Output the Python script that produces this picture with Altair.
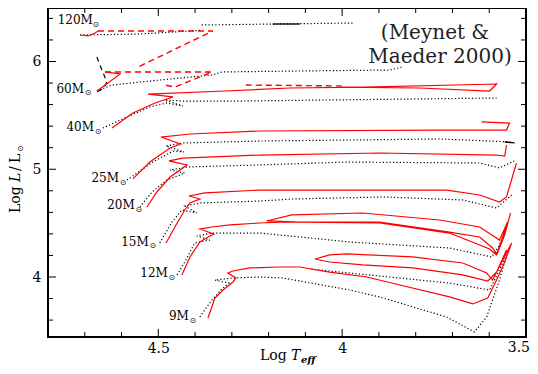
import altair as alt
import pandas as pd

# ---- evolutionary tracks (log Teff, log L/Lsun) ----
# rotating models (red solid)
R9 = [(4.365,3.620),(4.346,3.805),(4.324,3.879),(4.297,3.954),(4.289,3.991),(4.311,4.037),(4.297,4.056),
      (4.251,4.084),(4.170,4.093),(4.115,4.093),(4.034,4.046),(3.933,4.000),(3.843,3.926),(3.708,3.815),
      (3.645,3.750),(3.604,3.805),(3.580,3.972),(3.558,4.139),(3.539,4.316),(3.591,3.972),(3.607,4.037),
      (3.672,4.130),(3.808,4.186),(3.987,4.214),(4.034,4.205),(4.074,4.167),(4.034,4.139),(3.944,4.112),
      (3.808,4.084),(3.672,4.019),(3.604,3.963),(3.580,4.046),(3.553,4.251)]
R12 = [(4.436,4.019),(4.414,4.186),(4.387,4.325),(4.360,4.381),(4.349,4.399),(4.387,4.445),(4.354,4.464),
       (4.305,4.483),(4.224,4.501),(4.170,4.510),(3.898,4.510),(3.708,4.417),(3.626,4.371),(3.591,4.269),
       (3.580,4.214),(3.564,4.362),(3.550,4.510),(3.572,4.343),(3.626,4.464),(3.735,4.529),(3.944,4.594),
       (4.137,4.576),(4.205,4.520),(4.115,4.510),(3.898,4.501),(3.708,4.408),(3.599,4.260),(3.580,4.204),
       (3.558,4.390),(3.542,4.594)]
R15 = [(4.479,4.316),(4.455,4.464),(4.428,4.622),(4.414,4.687),(4.387,4.724),(4.417,4.752),(4.373,4.780),
       (4.224,4.807),(3.716,4.807),(3.626,4.761),(3.572,4.696),(3.553,4.743),(3.526,5.058)]
R20 = [(4.531,4.650),(4.504,4.789),(4.468,4.928),(4.422,5.040),(4.471,5.077),(4.433,5.104),(4.224,5.132),
       (3.898,5.151),(3.580,5.132),(3.558,5.123),(3.553,5.225)]
R25 = [(4.569,4.910),(4.523,5.067),(4.468,5.197),(4.439,5.234),(4.493,5.299),(4.414,5.327),(4.224,5.355),
       (3.735,5.364),(3.553,5.364),(3.545,5.429),(3.621,5.439)]
R40 = [(4.626,5.383),(4.569,5.522),(4.509,5.615),(4.460,5.671),(4.528,5.698),(4.319,5.726),(4.142,5.754),
       (3.939,5.763),(3.580,5.791),(3.599,5.726),(3.789,5.754),(4.001,5.763)]
R60 = [(4.667,5.726),(4.637,5.800),(4.604,5.884),(4.645,5.903)]
R120 = [(4.713,6.246),(4.691,6.237),(4.672,6.265),(4.664,6.283)]
# rotating models, later phases (red dashed)
D40 = [(4.001,5.773),(4.273,5.782)]
D60 = [(4.645,5.903),(4.354,5.903),(4.373,5.875),(4.428,5.800),(4.455,5.763),(4.482,5.782)]
D120 = [(4.664,6.283),(4.352,6.283),(4.555,5.949)]
# non-rotating models (black dotted)
K9 = [(4.387,3.629),(4.354,3.787),(4.327,3.889),(4.308,3.944),(4.346,3.972),(4.297,3.991),(4.224,4.000),
      (4.161,3.991),(3.979,3.879),(3.898,3.815),(3.716,3.629),(3.640,3.490),(3.607,3.629),(3.572,3.972),
      (3.553,4.204),(3.599,3.879),(3.708,3.944),(3.898,4.009),(4.088,4.074)]
K12 = [(4.449,4.019),(4.422,4.176),(4.401,4.316),(4.360,4.343),(4.395,4.381),(4.354,4.408),(4.224,4.408),
       (3.979,4.325),(3.708,4.269),(3.593,4.186),(3.572,4.297),(3.550,4.510)]
K15 = [(4.496,4.316),(4.463,4.510),(4.436,4.622),(4.395,4.594),(4.428,4.659),(4.387,4.687),(4.224,4.705),
       (4.134,4.724),(3.890,4.743),(3.672,4.715),(3.580,4.640),(3.539,4.761)]
K20 = [(4.550,4.650),(4.517,4.789),(4.477,4.900),(4.428,4.965),(4.468,4.993),(4.420,5.021),(4.224,5.040),
       (3.987,5.067),(3.626,5.058),(3.572,5.012),(3.526,5.086)]
K25 = [(4.585,4.900),(4.515,5.067),(4.460,5.169),(4.430,5.160),(4.479,5.216),(4.433,5.244),(4.224,5.262),
       (3.735,5.281),(3.536,5.253)]
K40 = [(4.651,5.383),(4.585,5.485),(4.523,5.578),(4.477,5.615),(4.433,5.587),(4.482,5.643),(4.433,5.633),
       (4.273,5.633),(4.034,5.643),(3.580,5.661)]
K60 = [(4.667,5.726),(4.626,5.782),(4.496,5.828),(4.354,5.875),(4.327,5.903),(4.115,5.912),(3.871,5.921),
       (3.835,5.949)]
K120a = [(4.713,6.246),(4.550,6.255),(4.382,6.290)]
K120b = [(4.382,6.339),(3.971,6.357)]
# non-rotating, black dashed / short solid pieces
KD60 = [(4.667,6.042),(4.659,5.968),(4.651,5.903),(4.640,5.810),(4.648,5.754),(4.667,5.717)]
KS120 = [(4.189,6.348),(4.115,6.348)]
KS25 = [(3.558,5.253),(3.531,5.244)]

# mass labels
MASS_TXT = ["120M", "60M", "40M", "25M", "20M", "15M", "12M", "9M"]
MASS_T = [4.678, 4.702, 4.675, 4.607, 4.564, 4.526, 4.474, 4.417]
MASS_L = [6.385, 5.745, 5.392, 4.919, 4.668, 4.325, 4.037, 3.638]
SUN_T = [4.670, 4.691, 4.664, 4.596, 4.553, 4.515, 4.463, 4.406]
SUN_L = [6.339, 5.708, 5.346, 4.872, 4.622, 4.288, 3.991, 3.592]

# axis ticks
X_LABELS = [4.5, 4.0]
X_EDGE_LABEL = "3.5"
X_MAJOR = [4.5, 4.0]
X_MINOR = [4.7, 4.6, 4.4, 4.3, 4.2, 4.1, 3.9, 3.8, 3.7, 3.6]
Y_LABELS = [4, 5, 6]
Y_MINOR = [3.6, 3.8, 4.2, 4.4, 4.6, 4.8, 5.2, 5.4, 5.6, 5.8, 6.2, 6.4]

W, H = 478, 329
SERIF = "DejaVu Serif"

XS = alt.Scale(domain=[3.5, 4.8], reverse=True, nice=False, zero=False)
YS = alt.Scale(domain=[3.4432, 6.4965], nice=False, zero=False)
XAX = alt.Axis(values=X_LABELS, format="~g", ticks=False, domain=False, grid=False,
               labelFont=SERIF, labelFontSize=14, labelColor="black", labelPadding=4,
               labelFlush=False, labelOverlap=False, title="")
YAX = alt.Axis(values=Y_LABELS, format="d", ticks=False, domain=False, grid=False,
               labelFont=SERIF, labelFontSize=14, labelColor="black", labelPadding=7,
               labelFlush=False, labelOverlap=False, title="")


def table(tracks):
    rows = []
    for name, pts in tracks.items():
        for i, (t, l) in enumerate(pts):
            rows.append({"track": name, "i": i, "T": t, "L": l})
    return pd.DataFrame(rows)


def lines(tracks, color, width, dash=None):
    kw = dict(color=color, strokeWidth=width, clip=True)
    if dash:
        kw["strokeDash"] = dash
    return alt.Chart(table(tracks)).mark_line(**kw).encode(
        x=alt.X("T:Q", scale=XS, axis=XAX),
        y=alt.Y("L:Q", scale=YS, axis=YAX),
        detail="track:N",
        order="i:Q",
    )


dotted = lines({"K9": K9, "K12": K12, "K15": K15, "K20": K20, "K25": K25, "K40": K40,
                "K60": K60, "K120a": K120a, "K120b": K120b}, "black", 1.2, [1.2, 2.2])
bdash = lines({"KD60": KD60}, "black", 1.2, [5, 4])
bsolid = lines({"KS120": KS120, "KS25": KS25}, "black", 1.3)
rsolid = lines({"R9": R9, "R12": R12, "R15": R15, "R20": R20, "R25": R25, "R40": R40,
                "R60": R60, "R120": R120}, "#ff0000", 1.2)
rdash = lines({"D40": D40, "D60": D60, "D120": D120}, "#ff0000", 1.4, [6, 4])

labels = alt.Chart(pd.DataFrame({"t": MASS_TXT, "T": MASS_T, "L": MASS_L})).mark_text(
    font=SERIF, fontSize=12, align="right", baseline="middle", color="black"
).encode(x=alt.X("T:Q", scale=XS, axis=XAX), y=alt.Y("L:Q", scale=YS, axis=YAX), text="t:N")
suns = alt.Chart(pd.DataFrame({"T": SUN_T, "L": SUN_L})).mark_text(
    font="DejaVu Sans", fontSize=8, align="center", baseline="middle", color="black", text="⊙"
).encode(x=alt.X("T:Q", scale=XS, axis=XAX), y=alt.Y("L:Q", scale=YS, axis=YAX))


def rules(vals, axis, side, length):
    base = alt.Chart(pd.DataFrame({"v": vals})).mark_rule(color="black", strokeWidth=1)
    if axis == "x":
        y0 = H if side == "low" else 0
        y1 = H - length if side == "low" else length
        return base.encode(x=alt.X("v:Q", scale=XS, axis=XAX), y=alt.value(y0), y2=alt.value(y1))
    x0 = 0 if side == "low" else W
    x1 = length if side == "low" else W - length
    return base.encode(y=alt.Y("v:Q", scale=YS, axis=YAX), x=alt.value(x0), x2=alt.value(x1))


ticks = [
    rules(X_MAJOR, "x", "low", 8), rules(X_MAJOR, "x", "high", 8),
    rules(X_MINOR, "x", "low", 5), rules(X_MINOR, "x", "high", 5),
    rules(Y_LABELS, "y", "low", 8), rules(Y_LABELS, "y", "high", 8),
    rules(Y_MINOR, "y", "low", 5), rules(Y_MINOR, "y", "high", 5),
]


def txt(s, x, y, **kw):
    opts = dict(font=SERIF, fontSize=14, color="black", align="left", baseline="alphabetic")
    opts.update(kw)
    return alt.Chart(pd.DataFrame({"s": [s]})).mark_text(**opts).encode(
        text="s:N", x=alt.value(x), y=alt.value(y))


annot = [
    txt("(Meynet &", 387, 25, fontSize=20, align="center", baseline="middle", color="#222222"),
    txt("Maeder 2000)", 392, 49, fontSize=20, align="center", baseline="middle", color="#222222"),
    # last x tick label, kept inside the page
    txt(X_EDGE_LABEL, W + 4, H + 4, align="right", baseline="top"),
    # x-axis title: Log T_eff
    txt("Log", 212, 352),
    txt("T", 243, 352, fontStyle="italic"),
    txt("eff", 253, 355, fontSize=10, fontStyle="italic", fontWeight="bold"),
    # y-axis title: Log L/L_sun (rotated)
    txt("Log", -28, 205, angle=270),
    txt("L", -28, 174, angle=270, fontStyle="italic"),
    txt("/", -28, 163, angle=270),
    txt("L", -28, 155, angle=270),
    txt("⊙", -25, 144, angle=270, fontSize=8, font="DejaVu Sans"),
]

chart = alt.layer(dotted, bdash, bsolid, rsolid, rdash, labels, suns, *ticks, *annot).properties(
    width=W, height=H,
    autosize=alt.AutoSizeParams(type="none"),
    padding={"left": 40, "top": 0, "right": 4, "bottom": 29},
    background="white",
).configure_view(stroke="black", strokeWidth=2)

chart.save("out.html", embed_options={"renderer": "svg", "actions": False})
